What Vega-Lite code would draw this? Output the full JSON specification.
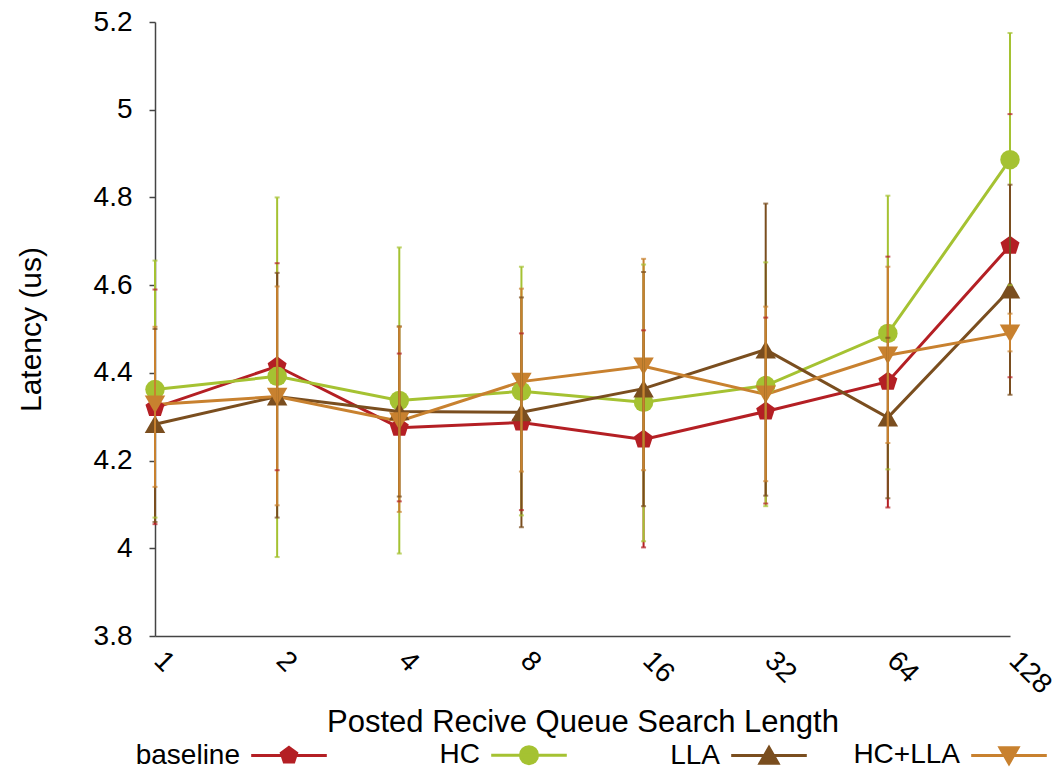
{
  "$schema": "https://vega.github.io/schema/vega-lite/v6.json",
  "autosize": "none",
  "width": 855,
  "height": 614,
  "padding": {"left": 155, "top": 22, "right": 44, "bottom": 133},
  "background": "white",
  "config": {
    "view": {"stroke": null},
    "font": "Liberation Sans",
    "axis": {"grid": false, "labelFont": "Liberation Sans", "titleFont": "Liberation Sans", "labelColor": "#000", "titleColor": "#000", "titleFontWeight": "normal", "domainColor": "#444", "domainWidth": 1.5, "tickColor": "#444", "tickWidth": 1.5},
    "legend": {"labelFont": "Liberation Sans"}
  },
  "data": {
    "values": [
      {"series": "baseline", "len": "1", "mean": 4.32, "lo": 4.055, "hi": 4.59},
      {"series": "baseline", "len": "2", "mean": 4.415, "lo": 4.178, "hi": 4.65},
      {"series": "baseline", "len": "4", "mean": 4.275, "lo": 4.107, "hi": 4.444},
      {"series": "baseline", "len": "8", "mean": 4.287, "lo": 4.087, "hi": 4.49},
      {"series": "baseline", "len": "16", "mean": 4.248, "lo": 4.002, "hi": 4.497},
      {"series": "baseline", "len": "32", "mean": 4.312, "lo": 4.102, "hi": 4.526},
      {"series": "baseline", "len": "64", "mean": 4.38, "lo": 4.093, "hi": 4.665},
      {"series": "baseline", "len": "128", "mean": 4.69, "lo": 4.39, "hi": 4.99},
      {"series": "HC", "len": "1", "mean": 4.362, "lo": 4.07, "hi": 4.656},
      {"series": "HC", "len": "2", "mean": 4.392, "lo": 3.98, "hi": 4.8},
      {"series": "HC", "len": "4", "mean": 4.337, "lo": 3.988, "hi": 4.686},
      {"series": "HC", "len": "8", "mean": 4.358, "lo": 4.075, "hi": 4.642},
      {"series": "HC", "len": "16", "mean": 4.333, "lo": 4.016, "hi": 4.647},
      {"series": "HC", "len": "32", "mean": 4.371, "lo": 4.096, "hi": 4.652},
      {"series": "HC", "len": "64", "mean": 4.49, "lo": 4.18, "hi": 4.804},
      {"series": "HC", "len": "128", "mean": 4.886, "lo": 4.6, "hi": 5.175},
      {"series": "LLA", "len": "1", "mean": 4.283, "lo": 4.06, "hi": 4.5},
      {"series": "LLA", "len": "2", "mean": 4.346, "lo": 4.07, "hi": 4.628},
      {"series": "LLA", "len": "4", "mean": 4.312, "lo": 4.118, "hi": 4.506},
      {"series": "LLA", "len": "8", "mean": 4.31, "lo": 4.048, "hi": 4.572},
      {"series": "LLA", "len": "16", "mean": 4.364, "lo": 4.096, "hi": 4.63},
      {"series": "LLA", "len": "32", "mean": 4.453, "lo": 4.12, "hi": 4.786},
      {"series": "LLA", "len": "64", "mean": 4.298, "lo": 4.114, "hi": 4.48},
      {"series": "LLA", "len": "128", "mean": 4.59, "lo": 4.35, "hi": 4.829},
      {"series": "HC+LLA", "len": "1", "mean": 4.328, "lo": 4.14, "hi": 4.505},
      {"series": "HC+LLA", "len": "2", "mean": 4.346, "lo": 4.098, "hi": 4.597},
      {"series": "HC+LLA", "len": "4", "mean": 4.29, "lo": 4.083, "hi": 4.505},
      {"series": "HC+LLA", "len": "8", "mean": 4.38, "lo": 4.175, "hi": 4.592},
      {"series": "HC+LLA", "len": "16", "mean": 4.415, "lo": 4.178, "hi": 4.66},
      {"series": "HC+LLA", "len": "32", "mean": 4.351, "lo": 4.153, "hi": 4.551},
      {"series": "HC+LLA", "len": "64", "mean": 4.44, "lo": 4.24, "hi": 4.642},
      {"series": "HC+LLA", "len": "128", "mean": 4.49, "lo": 4.449, "hi": 4.535}
    ]
  },
  "encoding": {
    "x": {
      "field": "len", "type": "ordinal",
      "sort": ["1", "2", "4", "8", "16", "32", "64", "128"],
      "scale": {"type": "point", "padding": 0},
      "axis": {"title": "Posted Recive Queue Search Length", "titleFontSize": 31, "titlePadding": 9, "labelFontSize": 28, "labelAngle": 45, "labelAlign": "left", "labelBaseline": "middle", "labelPadding": 20, "labelOffset": 3, "ticks": false, "tickSize": 0}
    },
    "y": {"field": "mean", "type": "quantitative", "scale": {"domain": [3.8, 5.2], "nice": false, "zero": false},
      "axis": {"title": "Latency (us)", "titleFontSize": 30, "titlePadding": 47, "labelFontSize": 28, "labelPadding": 17, "tickSize": 6, "values": [3.8, 4, 4.2, 4.4, 4.6, 4.8, 5, 5.2], "format": "~g"}},
    "color": {
      "field": "series", "type": "nominal",
      "scale": {"domain": ["baseline", "HC", "LLA", "HC+LLA"], "range": ["#B41F24", "#A5C232", "#7A4E1F", "#C8812F"]},
      "legend": {
        "title": null, "orient": "none", "legendX": 120, "legendY": 719, "direction": "horizontal", "columns": 4,
        "symbolSize": 324, "symbolStrokeWidth": 3, "labelFontSize": 28, "labelColor": "#000", "labelAlign": "right", "labelOffset": -63, "columnPadding": 23,
        "encode": {
          "symbols": {
            "update": {
              "shape": {"signal": "datum.value === 'baseline' ? 'M-18.5,0M-4.2,0H4.2M0,-0.9L0.856,-0.278L0.529,0.728L-0.529,0.728L-0.856,-0.278Z' : datum.value === 'HC' ? 'M-18.5,0M-4.2,0H4.2M0.95,0A0.95,0.95,0,1,1,-0.95,0A0.95,0.95,0,1,1,0.95,0Z' : datum.value === 'LLA' ? 'M-18.5,0M-4.2,0H4.2M0,-0.9L1,0.85L-1,0.85Z' : 'M-18.5,0M-4.2,0H4.2M0,0.9L1,-0.85L-1,-0.85Z'"},
              "fill": {"scale": "color", "field": "value"},
              "stroke": {"scale": "color", "field": "value"},
              "strokeWidth": {"value": 3},
              "opacity": {"value": 1}
            }
          }
        }
      }
    }
  },
  "layer": [
    {"mark": {"type": "line", "strokeWidth": 3}, "encoding": {}},
    {"transform": [{"filter": "datum.series === 'baseline'"}], "mark": {"type": "point", "filled": true, "opacity": 1, "size": 400, "shape": "M0,-1L0.951,-0.309L0.588,0.809L-0.588,0.809L-0.951,-0.309Z"}, "encoding": {}},
    {"transform": [{"filter": "datum.series === 'HC'"}], "mark": {"type": "point", "filled": true, "opacity": 1, "size": 380, "shape": "circle"}, "encoding": {}},
    {"transform": [{"filter": "datum.series === 'LLA'"}], "mark": {"type": "point", "filled": true, "opacity": 1, "size": 420, "shape": "triangle-up"}, "encoding": {}},
    {"transform": [{"filter": "datum.series === 'HC+LLA'"}], "mark": {"type": "point", "filled": true, "opacity": 1, "size": 420, "shape": "triangle-down"}, "encoding": {}},
    {
      "mark": {"type": "rule", "strokeWidth": 2},
      "encoding": {
        "y": {"field": "lo", "type": "quantitative"},
        "y2": {"field": "hi"}
      }
    },
    {
      "mark": {"type": "tick", "size": 5, "thickness": 2},
      "encoding": {"y": {"field": "lo", "type": "quantitative"}}
    },
    {
      "mark": {"type": "tick", "size": 5, "thickness": 2},
      "encoding": {"y": {"field": "hi", "type": "quantitative"}}
    }
  ]
}
